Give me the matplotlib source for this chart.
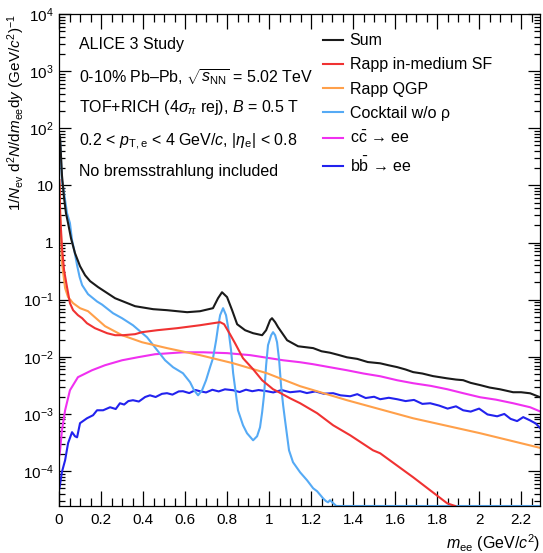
import numpy as np
import matplotlib
matplotlib.use("Agg")
import matplotlib.pyplot as plt
from matplotlib.ticker import MultipleLocator, LogLocator, FixedLocator, NullFormatter

plt.rcParams['font.family'] = ['Liberation Sans', 'DejaVu Sans']
plt.rcParams['mathtext.fontset'] = 'custom'
plt.rcParams['mathtext.rm'] = 'Liberation Sans'
plt.rcParams['mathtext.it'] = 'Liberation Sans:italic'
plt.rcParams['mathtext.bf'] = 'Liberation Sans:bold'

# dielectron invariant mass spectra, m_ee in GeV/c^2
sum_m = [0.000, 0.005, 0.014, 0.024, 0.033, 0.043, 0.057, 0.076, 0.100, 0.124, 0.148, 0.186,
         0.267, 0.362, 0.448, 0.514, 0.610, 0.671, 0.733, 0.757, 0.776, 0.800, 0.824, 0.848,
         0.886, 0.924, 0.967, 0.986, 1.005, 1.014, 1.029, 1.043, 1.086, 1.138, 1.210, 1.250,
         1.290, 1.330, 1.371, 1.420, 1.470, 1.529, 1.570, 1.610, 1.650, 1.686, 1.730, 1.780,
         1.848, 1.890, 1.924, 1.960, 2.005, 2.050, 2.100, 2.162, 2.200, 2.243, 2.270, 2.300]
sum_y = [80, 70, 15, 6.0, 3.27, 2.19, 1.19, 0.652, 0.386, 0.268, 0.211, 0.166,
         0.106, 0.0769, 0.0682, 0.0655, 0.0604, 0.0628, 0.0710, 0.106, 0.135, 0.111, 0.0655, 0.0372,
         0.0292, 0.0259, 0.0239, 0.0292, 0.0438, 0.0474, 0.0404, 0.033, 0.0195, 0.0153, 0.0142, 0.0125,
         0.0118, 0.0108, 0.0098, 0.0092, 0.0081, 0.0077, 0.0071, 0.0066, 0.0060, 0.0054, 0.0051, 0.0046,
         0.0042, 0.0040, 0.0039, 0.0035, 0.0032, 0.0029, 0.0027, 0.0024, 0.0024, 0.0023, 0.0021, 0.0019]

rapp_sf_m = [0.002, 0.005, 0.014, 0.024, 0.038, 0.052, 0.067, 0.090, 0.110, 0.133, 0.171, 0.229,
             0.267, 0.305, 0.362, 0.395, 0.467, 0.562, 0.671, 0.733, 0.767, 0.786, 0.814, 0.838,
             0.876, 0.924, 0.967, 1.019, 1.038, 1.100, 1.148, 1.229, 1.305, 1.386, 1.495, 1.529,
             1.686, 1.848, 1.886]
rapp_sf_y = [12.4, 3.27, 0.83, 0.329, 0.166, 0.0869, 0.0655, 0.0536, 0.0474, 0.0387, 0.0317, 0.0259,
             0.0239, 0.0239, 0.0249, 0.027, 0.0292, 0.0317, 0.0357, 0.0387, 0.0404, 0.0372, 0.0249, 0.0173,
             0.00945, 0.00607, 0.00389, 0.00271, 0.0025, 0.00188, 0.00154, 0.00103, 6.34e-4, 4.24e-4, 2.31e-4, 2.05e-4,
             7.8e-5, 2.73e-5, 2.06e-5]

rapp_qgp_m = [0.002, 0.005, 0.014, 0.029, 0.043, 0.067, 0.100, 0.138, 0.219, 0.300, 0.395, 0.514,
              0.671, 0.829, 0.990, 1.148, 1.371, 1.686, 2.005, 2.300]
rapp_qgp_y = [10.5, 4.0, 0.436, 0.159, 0.111, 0.0869, 0.071, 0.0629, 0.0344, 0.0239, 0.018, 0.0142,
              0.0107, 0.00772, 0.00516, 0.00306, 0.00174, 8.4e-4, 4.6e-4, 2.5e-4]

cocktail_m = [0.000, 0.005, 0.014, 0.029, 0.038, 0.052, 0.062, 0.075, 0.086, 0.098, 0.110, 0.138,
              0.181, 0.205, 0.257, 0.300, 0.352, 0.419, 0.467, 0.505, 0.543, 0.590, 0.624, 0.643,
              0.662, 0.681, 0.700, 0.719, 0.733, 0.748, 0.757, 0.767, 0.781, 0.795, 0.805, 0.819,
              0.829, 0.843, 0.852, 0.876, 0.895, 0.924, 0.943, 0.957, 0.967, 0.976, 0.986, 0.995,
              1.010, 1.019, 1.029, 1.038, 1.048, 1.057, 1.067, 1.076, 1.095, 1.114, 1.148, 1.181,
              1.210, 1.229, 1.257, 1.270, 1.281, 1.290, 1.305, 1.320, 2.300]
cocktail_y = [75, 62, 12.4, 5.53, 3.27, 2.19, 1.10, 0.66, 0.40, 0.25, 0.180, 0.125,
              0.093, 0.0820, 0.058, 0.0474, 0.0357, 0.022, 0.0131, 0.0087, 0.00657, 0.00516, 0.00359, 0.0026,
              0.00212, 0.0026, 0.00389, 0.00657, 0.00945, 0.0195, 0.033, 0.0536, 0.0710, 0.0536, 0.033, 0.0131,
              0.00516, 0.00212, 0.00116, 6.34e-4, 4.6e-4, 3.46e-4, 4.07e-4, 5.85e-4, 0.00107, 0.00212, 0.00713, 0.016,
              0.0239, 0.027, 0.0239, 0.018, 0.0087, 0.00318, 0.00142, 7.8e-4, 2.31e-4, 1.43e-4, 9.5e-5, 6.9e-5,
              5.0e-5, 4.43e-5, 3.34e-5, 3.0e-5, 2.84e-5, 3.1e-5, 2.75e-5, 0, 0]

ccbar_m = [0.002, 0.005, 0.014, 0.029, 0.052, 0.090, 0.157, 0.219, 0.300, 0.376, 0.457, 0.590,
           0.686, 0.800, 0.910, 1.067, 1.148, 1.210, 1.290, 1.371, 1.450, 1.529, 1.610, 1.686,
           1.770, 1.848, 1.924, 2.005, 2.080, 2.162, 2.243, 2.300]
ccbar_y = [1.9e-4, 2.31e-4, 5.2e-4, 0.00116, 0.0026, 0.0044, 0.00582, 0.00713, 0.0087, 0.00984, 0.0111, 0.0120,
           0.0120, 0.0116, 0.0107, 0.0087, 0.00804, 0.00742, 0.00657, 0.00582, 0.0051, 0.00457, 0.00389, 0.00345,
           0.0031, 0.00271, 0.00231, 0.00196, 0.00178, 0.00154, 0.00131, 0.00107]

bbbar_m = [0.002, 0.014, 0.029, 0.043, 0.062, 0.076, 0.086, 0.100, 0.133, 0.162, 0.181, 0.210,
           0.243, 0.270, 0.290, 0.310, 0.330, 0.352, 0.380, 0.410, 0.433, 0.460, 0.490, 0.514,
           0.540, 0.570, 0.590, 0.620, 0.650, 0.671, 0.700, 0.730, 0.760, 0.790, 0.829, 0.860,
           0.890, 0.920, 0.950, 0.990, 1.020, 1.060, 1.100, 1.148, 1.180, 1.220, 1.260, 1.305,
           1.340, 1.386, 1.420, 1.460, 1.500, 1.529, 1.570, 1.610, 1.650, 1.690, 1.730, 1.767,
           1.810, 1.850, 1.890, 1.924, 1.960, 2.000, 2.040, 2.086, 2.120, 2.150, 2.181, 2.210,
           2.243, 2.270, 2.300]
bbbar_y = [5.0e-5, 9.7e-5, 1.55e-4, 3.07e-4, 4.8e-4, 4.07e-4, 3.9e-4, 6.9e-4, 8.4e-4, 9.5e-4, 0.00116, 0.00116,
           0.00131, 0.00122, 0.00154, 0.00146, 0.00168, 0.00174, 0.00165, 0.00198, 0.00212, 0.00198, 0.00225, 0.00231,
           0.00218, 0.00248, 0.00250, 0.00232, 0.00262, 0.00250, 0.00238, 0.00265, 0.00248, 0.00270, 0.00260, 0.00242,
           0.00266, 0.00250, 0.00262, 0.00250, 0.00238, 0.00262, 0.00240, 0.00250, 0.00232, 0.00248, 0.00226, 0.00231,
           0.00212, 0.00204, 0.00222, 0.00190, 0.00200, 0.00181, 0.00192, 0.00181, 0.00168, 0.00176, 0.00150, 0.00154,
           0.00140, 0.00124, 0.00136, 0.00116, 0.00110, 0.00124, 0.00098, 0.00091, 0.00100, 0.00082, 0.00075, 0.00088,
           0.00077, 0.00068, 0.00052]

y_lo, y_hi = 2.45e-5, 1e4
x_lo, x_hi = 0.0, 2.29

fig = plt.figure(figsize=(5.43, 5.53), dpi=100)
ax = fig.add_axes([0.1087, 0.085, 0.8858, 0.8897])

series = [
    (sum_m, sum_y, '#1a1a1a', 'Sum'),
    (rapp_sf_m, rapp_sf_y, '#f03232', 'Rapp in-medium SF'),
    (rapp_qgp_m, rapp_qgp_y, '#ffa04a', 'Rapp QGP'),
    (cocktail_m, cocktail_y, '#55aaf5', 'Cocktail w/o ρ'),
    (ccbar_m, ccbar_y, '#f030f0', r'c$\bar{\rm c}$ → ee'),
    (bbbar_m, bbbar_y, '#2222ee', r'b$\bar{\rm b}$ → ee'),
]
# zero bins sit on the lower frame edge
for m, y, col, lab in series[::-1]:
    ax.plot(m, np.clip(y, y_lo, None), color=col, lw=1.5, label=lab)

ax.set_yscale('log')
ax.set_xlim(x_lo, x_hi)
ax.set_ylim(y_lo, y_hi)

ax.xaxis.set_major_locator(MultipleLocator(0.2))
ax.xaxis.set_minor_locator(MultipleLocator(0.05))
ax.set_xticks(np.arange(0, 2.21, 0.2))
ax.set_xticklabels(['0', '0.2', '0.4', '0.6', '0.8', '1', '1.2', '1.4', '1.6', '1.8', '2', '2.2'])
dec = [1e-4, 1e-3, 1e-2, 1e-1, 1, 10, 1e2, 1e3, 1e4]
ax.yaxis.set_major_locator(FixedLocator(dec))
ax.set_yticklabels([r'$10^{-4}$', r'$10^{-3}$', r'$10^{-2}$', r'$10^{-1}$', '1', '10',
                    r'$10^{2}$', r'$10^{3}$', r'$10^{4}$'])
ax.yaxis.set_minor_locator(LogLocator(base=10, subs=np.arange(2, 10), numticks=20))
ax.yaxis.set_minor_formatter(NullFormatter())

ax.tick_params(which='both', direction='in', top=True, right=True, labelsize=11, width=0.9)
ax.tick_params(axis='x', which='major', length=11, pad=5)
ax.tick_params(axis='x', which='minor', length=5.5)
ax.tick_params(axis='y', which='major', length=8.5, pad=4)
ax.tick_params(axis='y', which='minor', length=4.3)
for s in ax.spines.values():
    s.set_linewidth(0.9)

ax.set_xlabel(r'$m_{\rm ee}$ (GeV/$c^{2}$)', fontsize=11.5, loc='right', labelpad=4)
ax.set_ylabel(r'1/$N_{\rm ev}$ d$^{2}$$N$/d$m_{\rm ee}$d$y$ (GeV/$c^{2}$)$^{-1}$',
              fontsize=11, loc='top')
ax.yaxis.set_label_coords(-0.066, 1.0)

notes = ['ALICE 3 Study',
         r'0-10% Pb–Pb, $\sqrt{s_{\rm NN}}$ = 5.02 TeV',
         r'TOF+RICH (4$\sigma_{\pi}$ rej), $B$ = 0.5 T',
         r'0.2 < $p_{\rm T,e}$ < 4 GeV/$c$, |$\eta_{\rm e}$| < 0.8',
         'No bremsstrahlung included']
rows = [45, 77, 108, 142, 172]
for t, py in zip(notes, rows):
    ax.text(0.0416, (506 - py) / 492, t, transform=ax.transAxes, fontsize=11.5,
            ha='left', va='center')

h, l = ax.get_legend_handles_labels()
ax.legend(h[::-1], l[::-1], loc='upper left', bbox_to_anchor=(0.548, 0.961), frameon=False,
          fontsize=11.5, handlelength=1.3, handletextpad=0.4, labelspacing=0.58, borderpad=0,
          borderaxespad=0)

fig.savefig('out.png', dpi=100)
